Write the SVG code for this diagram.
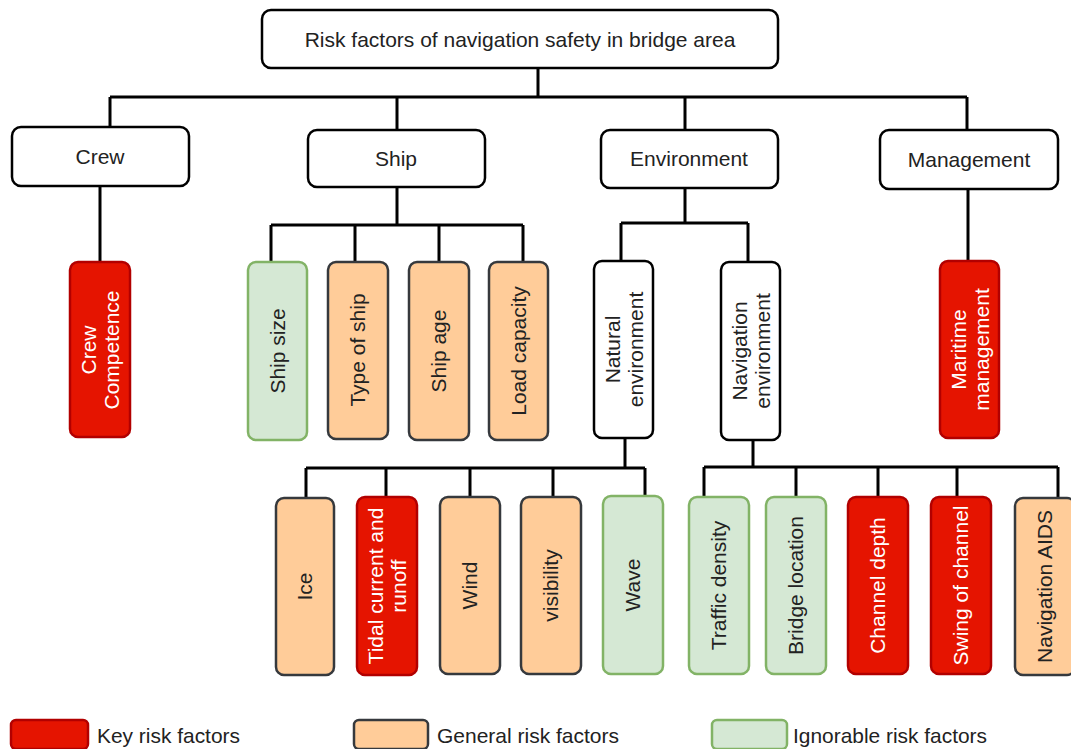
<svg xmlns="http://www.w3.org/2000/svg" width="1071" height="749" viewBox="0 0 1071 749">
<style>
text{font-family:"Liberation Sans",Arial,sans-serif;font-size:21px;fill:#222;}
.w{fill:#fff;stroke:#000;stroke-width:2.5;}
.k{fill:#e51400;stroke:#b20000;stroke-width:2.5;}
.g{fill:#ffcc99;stroke:#36393d;stroke-width:2.5;}
.n{fill:#d5e8d4;stroke:#82b366;stroke-width:2.5;}
.kt{fill:#fff;}
.c{fill:none;stroke:#000;stroke-width:3;}
</style>
<rect width="1071" height="749" fill="#fff"/>
<g id="connectors">
<path class="c" d="M538 68V97M110 97H967M110 97V127M397 97V130M685 97V130M967 97V130"/>
<path class="c" d="M100 186V262"/>
<path class="c" d="M397 187V225M271 225H523M271 225V262M355 225V262M439 225V262M523 225V262"/>
<path class="c" d="M685 188V223M621 223H748M621 223V261M748 223V262"/>
<path class="c" d="M968 189V261"/>
<path class="c" d="M625 438V468M306 468H645M306 468V498M386 468V497M470 468V497M553 468V497M645 468V496"/>
<path class="c" d="M753 440V467M704 467H1058M704 467V497M796 467V497M878 467V497M957 467V497M1058 467V497"/>
</g>
<g id="root"><rect class="w" x="262" y="10" width="516" height="58" rx="9"/><text x="520" y="47" text-anchor="middle" font-size="21.5">Risk factors of navigation safety in bridge area</text></g>
<g id="crew"><rect class="w" x="12" y="127" width="177" height="59" rx="9"/><text x="100" y="164" text-anchor="middle">Crew</text></g>
<g id="ship"><rect class="w" x="308" y="130" width="177" height="57" rx="9"/><text x="396" y="166" text-anchor="middle">Ship</text></g>
<g id="environment"><rect class="w" x="601" y="130" width="177" height="58" rx="9"/><text x="689" y="166" text-anchor="middle">Environment</text></g>
<g id="management"><rect class="w" x="880" y="130" width="178" height="59" rx="9"/><text x="969" y="167" text-anchor="middle">Management</text></g>

<g id="crew-competence"><rect class="k" x="70" y="262" width="60" height="175" rx="8"/><g transform="translate(100,350) rotate(-90)"><text class="kt" y="-4" text-anchor="middle">Crew</text><text class="kt" y="19" text-anchor="middle">Competence</text></g></g>

<g id="ship-size"><rect class="n" x="248" y="262" width="59" height="178" rx="8"/><text transform="translate(277.5,351) rotate(-90)" y="7" text-anchor="middle">Ship size</text></g>
<g id="type-of-ship"><rect class="g" x="328" y="262" width="60" height="177" rx="8"/><text transform="translate(358,350) rotate(-90)" y="7" text-anchor="middle">Type of ship</text></g>
<g id="ship-age"><rect class="g" x="409" y="262" width="60" height="178" rx="8"/><text transform="translate(439,351) rotate(-90)" y="7" text-anchor="middle">Ship age</text></g>
<g id="load-capacity"><rect class="g" x="489" y="262" width="59" height="178" rx="8"/><text transform="translate(518.5,351) rotate(-90)" y="7" text-anchor="middle">Load capacity</text></g>

<g id="natural-environment"><rect class="w" x="594" y="261" width="59" height="177" rx="8"/><g transform="translate(623.5,349.5) rotate(-90)"><text y="-4" text-anchor="middle">Natural</text><text y="19" text-anchor="middle">environment</text></g></g>
<g id="navigation-environment"><rect class="w" x="721" y="262" width="59" height="178" rx="8"/><g transform="translate(750.5,351) rotate(-90)"><text y="-4" text-anchor="middle">Navigation</text><text y="19" text-anchor="middle">environment</text></g></g>
<g id="maritime-management"><rect class="k" x="940" y="261" width="59" height="177" rx="8"/><g transform="translate(969.5,349.5) rotate(-90)"><text class="kt" y="-4" text-anchor="middle">Maritime</text><text class="kt" y="19" text-anchor="middle">management</text></g></g>

<g id="ice"><rect class="g" x="276" y="498" width="58" height="177" rx="8"/><text transform="translate(305,586.5) rotate(-90)" y="7" text-anchor="middle">Ice</text></g>
<g id="tidal"><rect class="k" x="357" y="497" width="60" height="178" rx="8"/><g transform="translate(387,586) rotate(-90)"><text class="kt" y="-4" text-anchor="middle">Tidal current and</text><text class="kt" y="19" text-anchor="middle">runoff</text></g></g>
<g id="wind"><rect class="g" x="440" y="497" width="60" height="177" rx="8"/><text transform="translate(470,585.5) rotate(-90)" y="7" text-anchor="middle">Wind</text></g>
<g id="visibility"><rect class="g" x="521" y="497" width="60" height="177" rx="8"/><text transform="translate(551,585.5) rotate(-90)" y="7" text-anchor="middle">visibility</text></g>
<g id="wave"><rect class="n" x="603" y="496" width="60" height="178" rx="8"/><text transform="translate(633,585) rotate(-90)" y="7" text-anchor="middle">Wave</text></g>

<g id="traffic-density"><rect class="n" x="689" y="497" width="60" height="177" rx="8"/><text transform="translate(719,585.5) rotate(-90)" y="7" text-anchor="middle">Traffic density</text></g>
<g id="bridge-location"><rect class="n" x="766" y="497" width="60" height="177" rx="8"/><text transform="translate(796,585.5) rotate(-90)" y="7" text-anchor="middle">Bridge location</text></g>
<g id="channel-depth"><rect class="k" x="848" y="497" width="60" height="177" rx="8"/><text class="kt" transform="translate(878,585.5) rotate(-90)" y="7" text-anchor="middle">Channel depth</text></g>
<g id="swing-of-channel"><rect class="k" x="931" y="497" width="60" height="177" rx="8"/><text class="kt" transform="translate(961,585.5) rotate(-90)" y="7" text-anchor="middle">Swing of channel</text></g>
<g id="navigation-aids"><rect class="g" x="1015" y="498" width="60" height="177" rx="8"/><text transform="translate(1045,586.5) rotate(-90)" y="7" text-anchor="middle">Navigation AIDS</text></g>

<g id="legend">
<rect class="k" x="11" y="720" width="77" height="29" rx="5"/><text x="97" y="743" textLength="143" lengthAdjust="spacingAndGlyphs">Key risk factors</text>
<rect class="g" x="354" y="720" width="74" height="29" rx="5"/><text x="437" y="743" textLength="182" lengthAdjust="spacingAndGlyphs">General risk factors</text>
<rect class="n" x="712" y="720" width="75" height="29" rx="5"/><text x="793" y="743" textLength="194" lengthAdjust="spacingAndGlyphs">Ignorable risk factors</text>
</g>
</svg>
